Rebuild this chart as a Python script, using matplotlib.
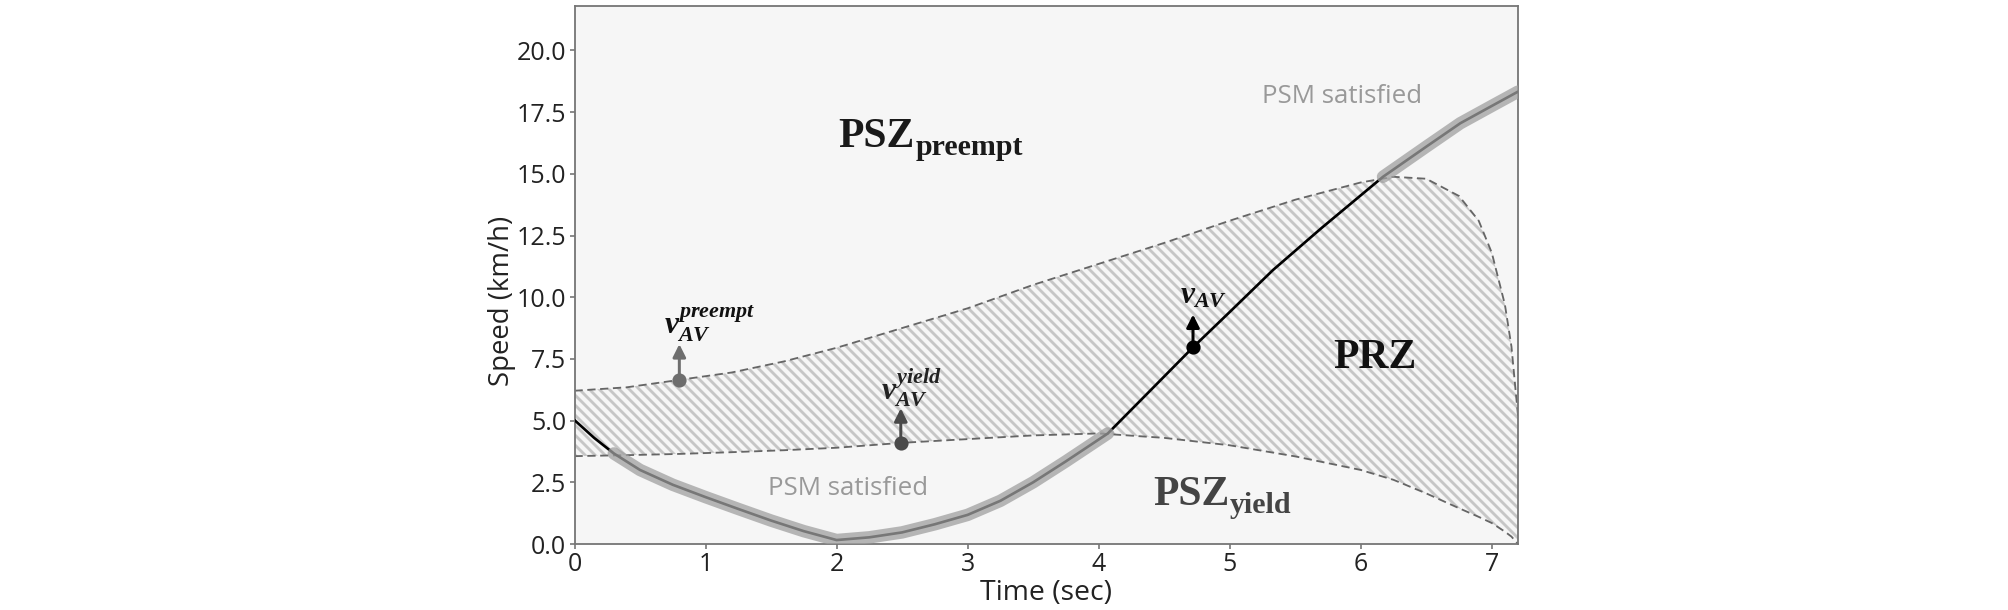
import numpy as np
import matplotlib
matplotlib.use("Agg")
import matplotlib.pyplot as plt

# boundaries of the PRZ
t_b = [0, 0.4, 0.8, 1.2, 1.6, 2.0, 2.5, 3.0, 3.5, 4.0, 4.5, 5.0, 5.5, 6.0,
       6.25, 6.5, 6.75, 6.9, 7.0, 7.1, 7.15, 7.2]
v_preempt = [6.21, 6.35, 6.65, 6.95, 7.4, 7.95, 8.75, 9.55, 10.5, 11.35, 12.2,
             13.1, 13.95, 14.65, 14.88, 14.8, 14.1, 13.1, 11.8, 9.7, 8.0, 5.2]
v_yield = [3.56, 3.6, 3.65, 3.72, 3.8, 3.9, 4.1, 4.25, 4.4, 4.48, 4.3,
           4.0, 3.55, 3.0, 2.6, 2.05, 1.45, 1.1, 0.85, 0.5, 0.3, 0.0]

# AV speed profile
t_av = [0, 0.15, 0.3, 0.5, 0.75, 1.0, 1.25, 1.5, 1.75, 2.0, 2.25, 2.5, 2.75,
        3.0, 3.25, 3.5, 3.75, 4.07, 4.4, 4.72, 5.0, 5.33, 5.7, 6.17, 6.5,
        6.76, 7.0, 7.2]
v_av = [5.02, 4.3, 3.67, 3.0, 2.4, 1.9, 1.42, 0.95, 0.52, 0.16, 0.27, 0.47,
        0.8, 1.18, 1.75, 2.5, 3.35, 4.48, 6.25, 7.97, 9.4, 11.1, 12.8,
        14.88, 16.1, 17.05, 17.75, 18.33]
# index ranges where PSM is satisfied (grey band)
psm_ranges = [(2, 17), (23, 27)]

# marked points: t, speed, arrow tip
pt_preempt = (0.8, 6.65, 8.1)
pt_yield = (2.49, 4.1, 5.5)
pt_av = (4.72, 7.97, 9.3)

plt.rcParams['font.family'] = ['Open Sans', 'DejaVu Sans']
plt.rcParams['mathtext.fontset'] = 'custom'
plt.rcParams['mathtext.rm'] = 'Liberation Serif'
plt.rcParams['mathtext.it'] = 'Liberation Serif:italic:bold'
plt.rcParams['mathtext.bf'] = 'Liberation Serif:bold'
plt.rcParams['hatch.linewidth'] = 1.7
plt.rcParams['hatch.color'] = '#c6c6c6'

fig = plt.figure(figsize=(2008 / 120, 610 / 120), dpi=120)
ax = fig.add_axes([574.5 / 2008, 1 - 544 / 610, (1518 - 574.5) / 2008, 538 / 610])
ax.set_facecolor('#f6f6f6')

ax.fill_between(t_b, v_yield, v_preempt, facecolor='none', edgecolor='#c6c6c6',
                hatch='\\\\\\\\', linewidth=0, zorder=1)
ax.plot(t_b, v_preempt, color='#666666', lw=1.1, ls=(0, (4.5, 2.5)), zorder=2)
ax.plot(t_b, v_yield, color='#666666', lw=1.1, ls=(0, (4.5, 2.5)), zorder=2)

ax.plot(t_av, v_av, color='black', lw=1.6, zorder=3, solid_capstyle='round')
for i0, i1 in psm_ranges:
    ax.plot(t_av[i0:i1 + 1], v_av[i0:i1 + 1], color='#a0a0a0', alpha=0.75,
            lw=7.5, solid_capstyle='round', zorder=4)

# points with arrows
for (t, v0, v1), c in [(pt_preempt, '#6e6e6e'), (pt_yield, '#4a4a4a'), (pt_av, 'black')]:
    ax.annotate('', xy=(t, v1), xytext=(t, v0),
                arrowprops=dict(arrowstyle='-|>', color=c, lw=1.8, mutation_scale=16,
                                shrinkA=0, shrinkB=0), zorder=5)
    ax.plot(t, v0, 'o', color=c, ms=7.5, zorder=6)

ax.text(0.68, 8.9, r'$v_{AV}^{preempt}$', fontsize=19, color='#111111', va='center')
ax.text(2.34, 6.35, r'$v_{AV}^{yield}$', fontsize=19, color='#222222', va='center')
ax.text(4.62, 10.1, r'$v_{AV}$', fontsize=19, color='#111111', va='center')

# zone names: main text and a larger-than-default subscript
ax.text(2.01, 16.1, 'PSZ', family='Liberation Serif', weight='bold', fontsize=25,
        color='#1a1a1a', va='baseline')
ax.text(2.60, 15.75, 'preempt', family='Liberation Serif', weight='bold', fontsize=18,
        color='#1a1a1a', va='baseline')
ax.text(4.42, 1.58, 'PSZ', family='Liberation Serif', weight='bold', fontsize=25,
        color='#444444', va='baseline')
ax.text(5.00, 1.25, 'yield', family='Liberation Serif', weight='bold', fontsize=18,
        color='#444444', va='baseline')
ax.text(5.79, 7.13, 'PRZ', family='Liberation Serif', weight='bold', fontsize=25,
        color='#111111', va='baseline')

ax.text(1.48, 1.99, 'PSM satisfied', fontsize=15.5, color='#999999', va='baseline')
ax.text(5.25, 17.87, 'PSM satisfied', fontsize=15.5, color='#999999', va='baseline')

ax.set_xlim(0, 7.2)
ax.set_ylim(0, 21.8)
ax.set_xticks(np.arange(0, 8, 1))
ax.set_yticks(np.arange(0, 20.1, 2.5))
ax.set_yticklabels(['%.1f' % y for y in np.arange(0, 20.1, 2.5)])
ax.tick_params(labelsize=15, colors='#222222', length=3, width=1, pad=2)
ax.tick_params(axis='both', color='#777777')
for s in ax.spines.values():
    s.set_color('#777777')
    s.set_linewidth(1.1)
ax.set_xlabel('Time (sec)', fontsize=17, color='#222222', labelpad=1)
ax.set_ylabel('Speed (km/h)', fontsize=16.5, color='#222222')
ax.yaxis.set_label_coords(-0.062, 0.452)

fig.savefig('out.png', dpi=120, facecolor='white')
